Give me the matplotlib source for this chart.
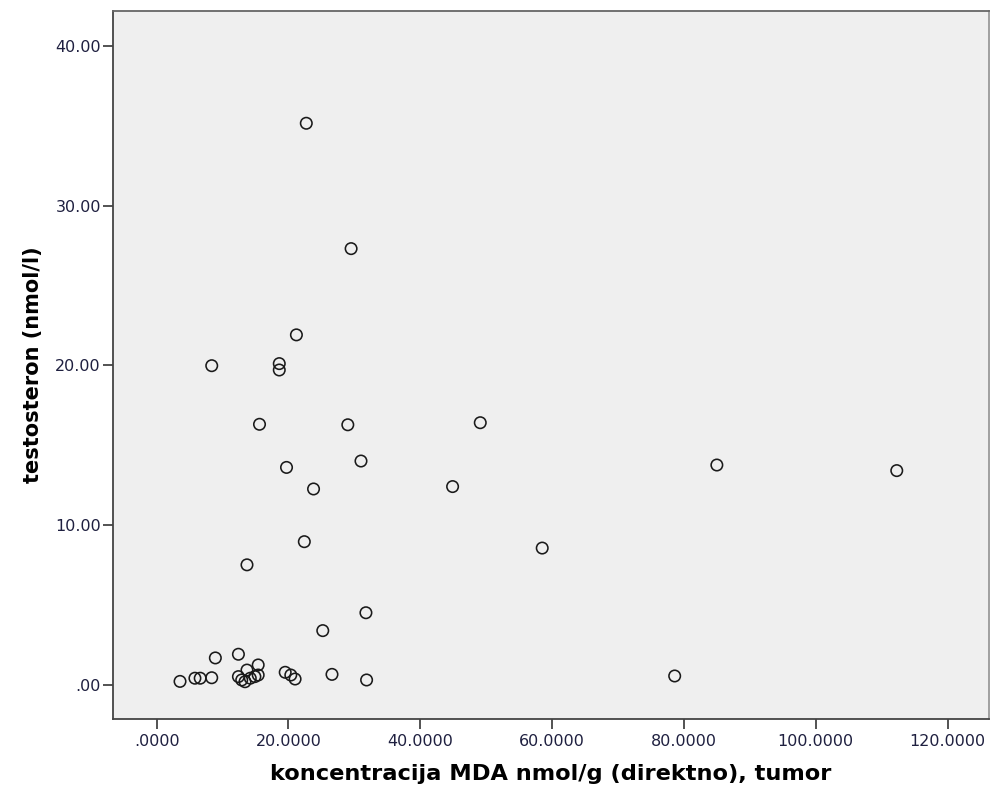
import numpy as np
import matplotlib
matplotlib.use("Agg")
import matplotlib.pyplot as plt

# MDA concentration (x) vs testosterone (y)
mda = [22.7, 29.5, 21.2, 8.35, 18.6, 18.6, 15.6, 29.0, 49.1, 19.7,
       31.0, 23.8, 44.9, 85.0, 112.3, 22.4, 58.5, 13.7, 31.75, 25.2,
       78.6, 19.5, 20.35, 21.0, 26.6, 31.85, 3.54, 5.8, 6.6, 8.35,
       8.9, 12.4, 13.7, 15.4, 12.4, 12.9, 13.4, 14.9, 15.4, 14.2]
testo = [35.15, 27.3, 21.9, 19.97, 20.1, 19.7, 16.3, 16.27, 16.4, 13.6,
         14.0, 12.25, 12.4, 13.75, 13.4, 8.95, 8.55, 7.5, 4.5, 3.38,
         0.54, 0.77, 0.6, 0.35, 0.64, 0.29, 0.2, 0.4, 0.4, 0.43,
         1.67, 1.9, 0.91, 1.23, 0.5, 0.29, 0.18, 0.5, 0.6, 0.4]

xticks = [0, 20, 40, 60, 80, 100, 120]
xlabels = [".0000", "20.0000", "40.0000", "60.0000", "80.0000", "100.0000", "120.0000"]
yticks = [0, 10, 20, 30, 40]
ylabels = [".00", "10.00", "20.00", "30.00", "40.00"]

fig = plt.figure(figsize=(9.91, 7.91), dpi=100)
ax = fig.add_axes([0.1137, 0.0907, 0.8843, 0.8958])
ax.set_facecolor("#efefef")

ax.scatter(mda, testo, s=68, facecolors="none", edgecolors="#1a1a1a", linewidths=1.15, zorder=3)

ax.set_xlim(-6.68, 126.3)
ax.set_ylim(-2.17, 42.2)
ax.set_xticks(xticks)
ax.set_xticklabels(xlabels)
ax.set_yticks(yticks)
ax.set_yticklabels(ylabels)

for s in ax.spines.values():
    s.set_color("#444444")
    s.set_linewidth(1.3)
ax.spines["right"].set_color("#999999")
ax.spines["top"].set_color("#666666")

ax.tick_params(axis="both", direction="out", length=7.5, width=1.3, color="#444444",
               labelsize=11.5, labelcolor="#1f2040")
ax.tick_params(axis="x", pad=3)
ax.tick_params(axis="y", pad=1)

ax.set_xlabel("koncentracija MDA nmol/g (direktno), tumor", fontsize=16.2,
              fontweight="bold", labelpad=11)
ax.set_ylabel("testosteron (nmol/l)", fontsize=15, fontweight="bold", labelpad=9)

fig.savefig("out.png", dpi=100)
